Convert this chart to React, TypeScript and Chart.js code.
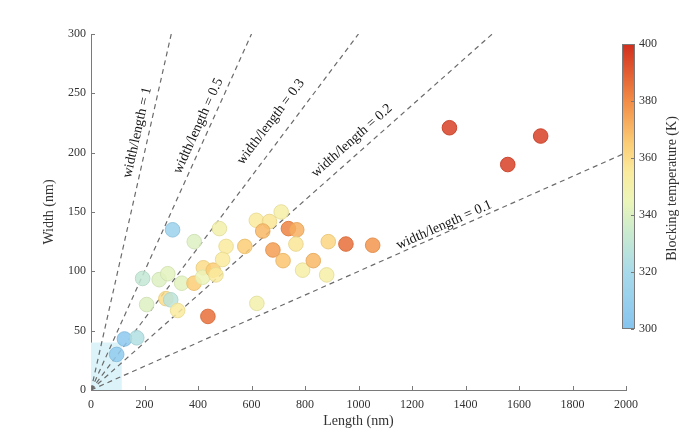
import React, { useEffect, useRef } from "react";
import { Chart, registerables } from "chart.js";

Chart.register(...registerables);

// ---- data ----
const lengthsNm = [96, 125, 171, 305, 193, 255, 287, 339, 208, 280, 298, 324, 386, 385, 420, 417, 457, 467, 437, 480, 505, 492, 575, 618, 667, 642, 711, 738, 769, 680, 766, 718, 791, 831, 887, 881, 620, 953, 1053, 1340, 1558, 1681];
const widthsNm = [30, 43, 44, 135, 94, 93, 98, 90, 72, 77, 76, 67, 125, 90, 103, 95, 101, 97, 62, 136, 121, 110, 121, 143, 142, 134, 150, 136, 135, 118, 123, 109, 101, 109, 125, 97, 73, 123, 122, 221, 190, 214];
const blockingTempK = [306, 304, 324, 312, 331, 340, 342, 342, 340, 360, 328, 355, 340, 365, 360, 345, 365, 355, 386, 350, 355, 355, 365, 355, 357, 370, 352, 382, 372, 376, 357, 367, 352, 370, 362, 352, 350, 386, 378, 396, 396, 396];

const ratios = [1, 0.5, 0.3, 0.2, 0.1];
const ratioEndLength = [300, 600, 1000, 1500, 2000];
const ratioLabels = ["width/length = 1", "width/length = 0.5", "width/length = 0.3", "width/length = 0.2", "width/length = 0.1"];

const shadeLength = [0, 115];
const shadeWidth = [0, 40];

const colorbarTicks = [300, 320, 340, 360, 380, 400];
const tempMin = 300;
const tempMax = 400;

// ---- layout / style (not data) ----
const ratioLabelPos = [
  { x: 173, y: 217 },
  { x: 401, y: 222.5 },
  { x: 672, y: 226 },
  { x: 975, y: 210 },
  { x: 1320, y: 139 },
];

const FONT = "'Liberation Serif', 'Times New Roman', serif";

const cmapStops: [number, [number, number, number]][] = [
  [0.0, [134, 196, 239]],
  [0.2, [168, 218, 234]],
  [0.35, [205, 236, 205]],
  [0.45, [236, 245, 184]],
  [0.55, [250, 235, 158]],
  [0.65, [251, 205, 118]],
  [0.8, [242, 140, 70]],
  [1.0, [210, 46, 30]],
];

function cmap(t: number): [number, number, number] {
  const v = Math.max(0, Math.min(1, (t - tempMin) / (tempMax - tempMin)));
  for (let i = 1; i < cmapStops.length; i++) {
    const [p1, c1] = cmapStops[i];
    const [p0, c0] = cmapStops[i - 1];
    if (v <= p1) {
      const f = (v - p0) / (p1 - p0);
      return [0, 1, 2].map((k) => Math.round(c0[k] + (c1[k] - c0[k]) * f)) as [number, number, number];
    }
  }
  return cmapStops[cmapStops.length - 1][1];
}

const rgba = (c: [number, number, number], a: number) => `rgba(${c[0]},${c[1]},${c[2]},${a})`;
const darker = (c: [number, number, number], f: number) => c.map((v) => Math.round(v * f)) as [number, number, number];

const customPlugin = {
  id: "custom",
  beforeDatasetsDraw(chart: any) {
    const { ctx, scales } = chart;
    const x = scales.x;
    const y = scales.y;
    ctx.save();
    ctx.fillStyle = "#dcf3f9";
    const x0 = x.getPixelForValue(shadeLength[0]);
    const x1 = x.getPixelForValue(shadeLength[1]);
    const y0 = y.getPixelForValue(shadeWidth[0]);
    const y1 = y.getPixelForValue(shadeWidth[1]);
    ctx.fillRect(x0, y1, x1 - x0, y0 - y1);
    ctx.restore();
  },
  afterDraw(chart: any) {
    const { ctx, scales, chartArea } = chart;
    const x = scales.x;
    const y = scales.y;
    ctx.save();
    // inward tick marks
    ctx.strokeStyle = "#7a7a7a";
    ctx.lineWidth = 1;
    const tl = 4;
    x.ticks.forEach((t: any) => {
      const px = Math.round(x.getPixelForValue(t.value)) + 0.5;
      ctx.beginPath();
      ctx.moveTo(px, chartArea.bottom);
      ctx.lineTo(px, chartArea.bottom - tl);
      ctx.stroke();
    });
    y.ticks.forEach((t: any) => {
      const py = Math.round(y.getPixelForValue(t.value)) + 0.5;
      ctx.beginPath();
      ctx.moveTo(chartArea.left, py);
      ctx.lineTo(chartArea.left + tl, py);
      ctx.stroke();
    });

    // axis titles
    ctx.fillStyle = "#333";
    ctx.font = `14px ${FONT}`;
    ctx.textAlign = "center";
    ctx.textBaseline = "middle";
    ctx.fillText("Length (nm)", (chartArea.left + chartArea.right) / 2, chartArea.bottom + 31);
    ctx.save();
    ctx.translate(chartArea.left - 42, (chartArea.top + chartArea.bottom) / 2);
    ctx.rotate(-Math.PI / 2);
    ctx.fillText("Width (nm)", 0, 0);
    ctx.restore();

    // ratio labels
    ctx.fillStyle = "#151515";
    ctx.font = `14px ${FONT}`;
    ratios.forEach((r, i) => {
      const p0x = x.getPixelForValue(0);
      const p0y = y.getPixelForValue(0);
      const p1x = x.getPixelForValue(ratioEndLength[i]);
      const p1y = y.getPixelForValue(r * ratioEndLength[i]);
      const ang = Math.atan2(p1y - p0y, p1x - p0x);
      const cx = x.getPixelForValue(ratioLabelPos[i].x);
      const cy = y.getPixelForValue(ratioLabelPos[i].y);
      ctx.save();
      ctx.translate(cx, cy);
      ctx.rotate(ang);
      ctx.textAlign = "center";
      ctx.textBaseline = "middle";
      ctx.fillText(ratioLabels[i], 0, 0);
      ctx.restore();
    });

    // colorbar
    const cbLeft = chartArea.right - 4;
    const cbW = 13;
    const cbTop = chartArea.top + 10;
    const cbBottom = chartArea.bottom - 61;
    const grad = ctx.createLinearGradient(0, cbBottom, 0, cbTop);
    cmapStops.forEach(([p, c]) => grad.addColorStop(p, rgba(c, 1)));
    ctx.fillStyle = grad;
    ctx.fillRect(cbLeft, cbTop, cbW, cbBottom - cbTop);
    ctx.strokeStyle = "#7a7a7a";
    ctx.lineWidth = 1;
    ctx.strokeRect(cbLeft + 0.5, cbTop + 0.5, cbW - 1, cbBottom - cbTop - 1);
    ctx.fillStyle = "#333";
    ctx.font = `12px ${FONT}`;
    ctx.textAlign = "left";
    ctx.textBaseline = "middle";
    colorbarTicks.forEach((t) => {
      const py = cbBottom - ((t - tempMin) / (tempMax - tempMin)) * (cbBottom - cbTop);
      ctx.beginPath();
      ctx.moveTo(cbLeft + cbW - 1, Math.round(py) + 0.5);
      ctx.lineTo(cbLeft + cbW - 4, Math.round(py) + 0.5);
      ctx.stroke();
      ctx.fillText(String(t), cbLeft + cbW + 4, py);
    });
    ctx.save();
    ctx.translate(cbLeft + cbW + 37, (cbTop + cbBottom) / 2 + 2);
    ctx.rotate(-Math.PI / 2);
    ctx.textAlign = "center";
    ctx.font = `14px ${FONT}`;
    ctx.fillText("Blocking temperature (K)", 0, 0);
    ctx.restore();

    ctx.restore();
  },
};

export default function App() {
  const canvasRef = useRef<HTMLCanvasElement | null>(null);

  useEffect(() => {
    if (!canvasRef.current) return;
    const colors = blockingTempK.map((t) => cmap(t));
    const points = lengthsNm.map((l, i) => ({ x: l, y: widthsNm[i] }));

    const lineSets = ratios.map((r, i) => ({
      type: "line" as const,
      label: ratioLabels[i],
      data: [
        { x: 0, y: 0 },
        { x: ratioEndLength[i], y: r * ratioEndLength[i] },
      ],
      borderColor: "#6b6b6b",
      borderDash: [5, 4],
      borderWidth: 1.2,
      pointRadius: 0,
      fill: false,
      order: 2,
    }));

    const chart = new Chart(canvasRef.current, {
      type: "scatter",
      data: {
        datasets: [
          ...lineSets,
          {
            type: "scatter" as const,
            label: "samples",
            data: points,
            backgroundColor: colors.map((c) => rgba(c, 0.85)),
            borderColor: colors.map((c) => rgba(darker(c, 0.93), 0.9)),
            borderWidth: 1,
            pointRadius: 7.3,
            order: 1,
          },
        ] as any,
      },
      options: {
        animation: false,
        responsive: false,
        devicePixelRatio: window.devicePixelRatio || 1,
        layout: { padding: { left: 0, right: 66, top: 34, bottom: 0 } },
        plugins: {
          legend: { display: false },
          tooltip: { enabled: false },
        },
        scales: {
          x: {
            type: "linear",
            min: 0,
            max: 2000,
            afterFit: (s: any) => {
              s.height = 50;
            },
            ticks: {
              stepSize: 200,
              padding: 8,
              color: "#333",
              font: { family: FONT, size: 12 },
              maxRotation: 0,
              callback: (v: any) => String(v),
            },
            grid: { display: false, drawTicks: false },
            border: { display: true, color: "#7a7a7a", width: 1 },
          },
          y: {
            type: "linear",
            min: 0,
            max: 300,
            afterFit: (s: any) => {
              s.width = 91;
            },
            ticks: {
              stepSize: 50,
              padding: 5,
              color: "#333",
              font: { family: FONT, size: 12 },
              callback: (v: any) => String(v),
            },
            grid: { display: false, drawTicks: false },
            border: { display: true, color: "#7a7a7a", width: 1 },
          },
        },
      } as any,
      plugins: [customPlugin],
    });
    return () => chart.destroy();
  }, []);

  return (
    <div style={{ position: "fixed", left: 0, top: 0, width: 692, height: 440, background: "#fff" }}>
      <canvas ref={canvasRef} width={692} height={440} style={{ width: 692, height: 440, display: "block" }} />
    </div>
  );
}
